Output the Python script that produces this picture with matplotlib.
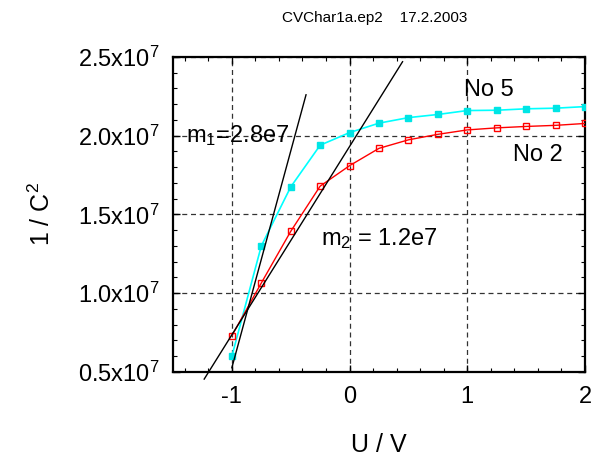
import numpy as np
import matplotlib
matplotlib.use("Agg")
import matplotlib.pyplot as plt
from matplotlib.ticker import MultipleLocator, FuncFormatter

plt.rcParams.update({"font.family": "Liberation Sans", "mathtext.fontset": "custom",
                     "mathtext.rm": "Liberation Sans", "mathtext.it": "Liberation Sans"})

# Messdaten (U in V, 1/C^2)
u = [-1.0, -0.75, -0.5, -0.25, 0.0, 0.25, 0.5, 0.75, 1.0, 1.25, 1.5, 1.75, 2.0]
no5 = [0.60e7, 1.30e7, 1.675e7, 1.94e7, 2.02e7, 2.08e7, 2.115e7, 2.135e7, 2.16e7,
       2.162e7, 2.171e7, 2.175e7, 2.185e7]
no2 = [0.73e7, 1.065e7, 1.393e7, 1.68e7, 1.81e7, 1.92e7, 1.974e7, 2.009e7, 2.037e7,
       2.05e7, 2.059e7, 2.066e7, 2.078e7]
# Tangenten
fit1_u = [-1.0, -0.37]
fit1_y = [0.527e7, 2.26e7]
fit2_u = [-1.235, 0.45]
fit2_y = [0.455e7, 2.47e7]

fig = plt.figure(figsize=(5.98, 4.57), dpi=100)
ax = fig.add_axes([0.2893, 0.186, 0.689, 0.6893])

ax.plot(u, no5, "-s", color="#00ffff", ms=5, mfc="#00e5e5", mec="#00e5e5", lw=1.2, zorder=3)
ax.plot(u, no2, "-s", color="red", ms=4.5, mfc="none", mec="red", lw=1.0, zorder=3)
ax.plot(fit1_u, fit1_y, color="black", lw=1.0, zorder=4)
ax.plot(fit2_u, fit2_y, color="black", lw=1.0, zorder=4, clip_on=False)

ax.set_xlim(-1.5, 2)
ax.set_ylim(0.5e7, 2.5e7)
ax.xaxis.set_major_locator(MultipleLocator(1))
ax.xaxis.set_minor_locator(MultipleLocator(0.2))
ax.yaxis.set_major_locator(MultipleLocator(0.5e7))
ax.yaxis.set_minor_locator(MultipleLocator(0.1e7))
ax.xaxis.set_major_formatter(FuncFormatter(lambda v, p: f"{v:g}"))
ax.yaxis.set_major_formatter(FuncFormatter(lambda v, p: r"$\mathregular{%.1fx10^{7}}$" % (v / 1e7)))
ax.tick_params(which="both", direction="in", top=True, right=True, labelsize=17, pad=10)
ax.tick_params(which="major", length=5, width=1)
ax.tick_params(which="minor", length=3, width=0.8)
ax.grid(True, which="major", color="#333333", ls=(0, (4, 3)), lw=0.9)
for s in ax.spines.values():
    s.set_linewidth(1.6)

ax.text(0.97, 2.25e7, "No 5", fontsize=17)
ax.text(1.6, 1.84e7, "No 2", fontsize=17, ha="center")
ax.text(-1.39, 2.0e7, r"$\mathregular{m_1}$=2.8e7", fontsize=17, va="center")
ax.text(-0.24, 1.35e7, r"$\mathregular{m_2}$ = 1.2e7", fontsize=17, va="center")

ax.set_xlabel("U / V", fontsize=18, labelpad=18)
ax.set_ylabel(r"1 / C$\mathregular{^2}$", fontsize=18, labelpad=16)
fig.text(0.627, 0.96, "CVChar1a.ep2    17.2.2003", fontsize=11, ha="center", va="center")

fig.savefig("out.png", dpi=100)
